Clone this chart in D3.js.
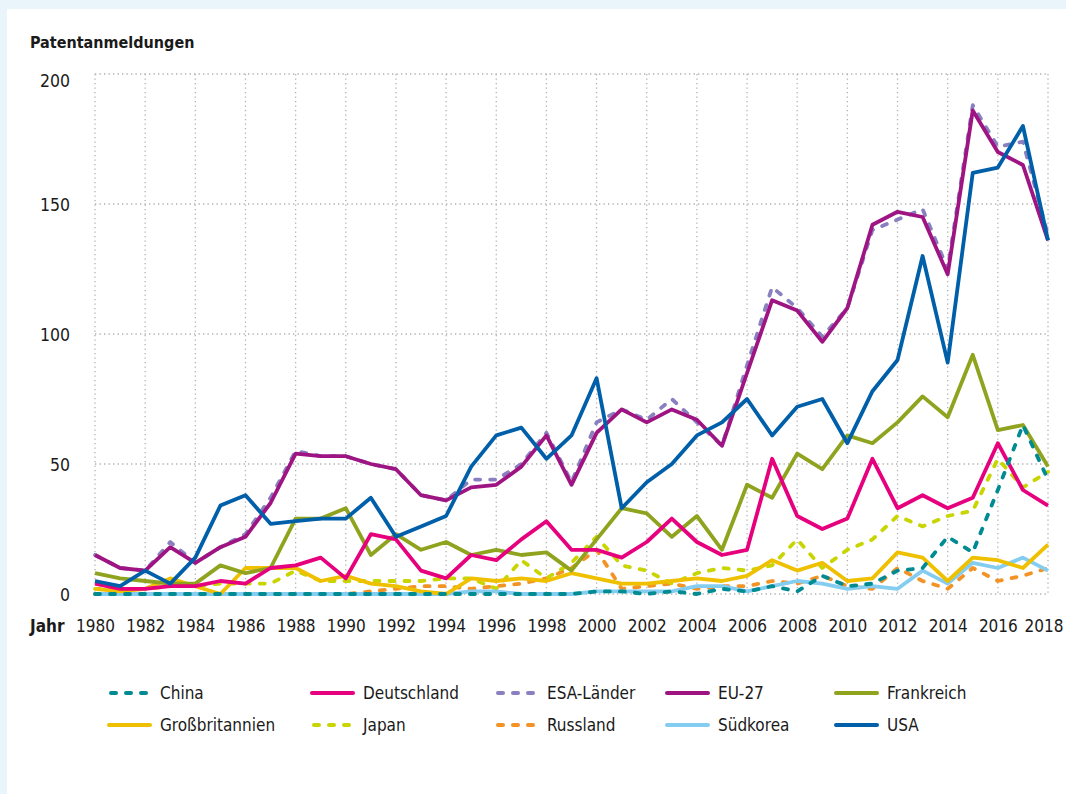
<!DOCTYPE html>
<html>
<head>
<meta charset="utf-8">
<script src="https://cdn.jsdelivr.net/npm/d3@7"></script>
<style>
  html, body { margin: 0; padding: 0; background: #e9f4fb; }
  svg { display: block; }
  text { font-family: "DejaVu Sans Condensed", "Liberation Sans Narrow", sans-serif; fill: #1a1a1a; }
</style>
</head>
<body>
<svg id="chart" width="1066" height="794"></svg>
<script>
// ---- Data ----
const years = d3.range(1980, 2019);
const yTicks = [0, 50, 100, 150, 200];
const xTicks = d3.range(1980, 2019, 2);

const seriesNames = ["China", "Deutschland", "ESA-Länder", "EU-27", "Frankreich",
                     "Großbritannien", "Japan", "Russland", "Südkorea", "USA"];

const china = [0,0,0,0,0,0,0,0,0,0, 0,0,0,0,0,0,0,0,0,0, 1,1,0,1,0,2,1,3,1,7, 3,4,9,10,22,16,40,65,44];
const deutschland = [4,2,2,3,3,5,4,10,11,14, 6,23,21,9,6,15,13,21,28,17, 17,14,20,29,20,15,17,52,30,25, 29,52,33,38,33,37,58,40,34];
const esa = [15,10,9,20,12,18,23,37,55,53, 53,50,48,38,36,44,44,50,62,43, 66,71,67,75,66,57,88,118,110,99, 110,140,144,148,125,188,172,174,138];
const eu27 = [15,10,9,18,12,18,22,35,54,53, 53,50,48,38,36,41,42,49,61,42, 62,71,66,71,67,57,85,113,109,97, 110,142,147,145,123,186,170,165,136];
const frankreich = [8,6,5,4,4,11,8,10,29,29, 33,15,23,17,20,15,17,15,16,9, 21,33,31,22,30,17,42,37,54,48, 61,58,66,76,68,92,63,65,49];
const grossbritannien = [2,1,2,6,3,0,10,10,10,5, 7,4,3,1,0,6,5,6,5,8, 6,4,4,5,6,5,7,13,9,12, 5,6,16,14,5,14,13,10,19];
const japan = [2,2,2,3,3,4,4,4,9,5, 5,5,5,5,6,6,2,13,6,12, 22,11,9,4,8,10,9,11,21,10, 17,21,30,26,30,32,52,41,47];
const russland = [0,0,0,0,0,0,0,0,0,0, 0,1,2,3,3,2,3,4,6,10, 17,2,3,4,2,3,3,5,4,7, 3,2,10,5,2,10,5,7,10];
const suedkorea = [0,0,0,0,0,0,0,0,0,0, 0,0,0,0,0,1,1,0,0,0, 1,1,1,1,3,3,1,3,5,4, 2,3,2,9,4,12,10,14,9];
const usa = [5,3,9,4,14,34,38,27,28,29, 29,37,22,26,30,49,61,64,52,61, 83,33,43,50,61,66,75,61,72,75, 58,78,90,130,89,162,164,180,136];

const seriesValues = [china, deutschland, esa, eu27, frankreich, grossbritannien, japan, russland, suedkorea, usa];

// ---- Styles ----
const colors = {
  "China": "#008b93", "Deutschland": "#e6007e", "ESA-Länder": "#8a80c0", "EU-27": "#9f1483",
  "Frankreich": "#8fa31e", "Großbritannien": "#efc000", "Japan": "#c9d500", "Russland": "#f39325",
  "Südkorea": "#85cdf0", "USA": "#005fa9"
};
const dashed = { "China": true, "ESA-Länder": true, "Japan": true, "Russland": true };
const drawOrder = ["ESA-Länder", "Russland", "Japan", "Südkorea", "Großbritannien", "Frankreich",
                   "Deutschland", "EU-27", "USA", "China"];

const svg = d3.select("#chart");
svg.append("rect").attr("x", 7).attr("y", 9).attr("width", 1066).attr("height", 800).attr("fill", "#ffffff");

const x = d3.scaleLinear().domain([1980, 2018]).range([95, 1048]);
const y = d3.scaleLinear().domain([0, 200]).range([594, 74]);

// Title
svg.append("text").attr("x", 30).attr("y", 48).attr("font-size", 16).attr("font-weight", "bold")
  .text("Patentanmeldungen");

// Grid
const grid = svg.append("g").attr("stroke", "#b0b0b0").attr("stroke-width", 1.3)
  .attr("stroke-dasharray", "1.3,3.2");
grid.selectAll("line.v").data(xTicks).join("line")
  .attr("x1", d => x(d)).attr("x2", d => x(d)).attr("y1", y(200)).attr("y2", y(0));
grid.selectAll("line.h").data(yTicks).join("line")
  .attr("x1", x(1980)).attr("x2", x(2018)).attr("y1", d => y(d)).attr("y2", d => y(d));

// Y axis labels
const yAxis = d3.axisLeft(y).tickValues(yTicks).tickSize(0).tickPadding(0);
const gy = svg.append("g").attr("transform", "translate(70,0)").call(yAxis);
gy.select(".domain").remove();
gy.selectAll("text").attr("font-size", 17.5).attr("font-family", null).style("fill", "#1a1a1a")
  .attr("dy", d => d === 200 ? "0.72em" : "0.35em");

// X axis labels
const xAxis = d3.axisBottom(x).tickValues(xTicks).tickFormat(d3.format("d")).tickSize(0).tickPadding(0);
const gx = svg.append("g").attr("transform", "translate(0,620)").call(xAxis);
gx.select(".domain").remove();
gx.selectAll("text").attr("font-size", 17).attr("font-family", null).style("fill", "#1a1a1a").attr("dy", "0.71em");
gx.selectAll(".tick").filter(d => d === 2018).select("text")
  .attr("text-anchor", "end").attr("x", 1063 - x(2018));
svg.append("text").attr("x", 30).attr("y", 632).attr("font-size", 17).attr("font-weight", "bold").text("Jahr");

// Lines
const line = d3.line().x((d, i) => x(years[i])).y(d => y(d)).curve(d3.curveLinear);
const lines = svg.append("g").attr("fill", "none");
drawOrder.forEach(name => {
  const vals = seriesValues[seriesNames.indexOf(name)];
  lines.append("path").datum(vals)
    .attr("d", line)
    .attr("stroke", colors[name])
    .attr("stroke-width", 3.8)
    .attr("stroke-linejoin", "round")
    .attr("stroke-linecap", dashed[name] ? "round" : "butt")
    .attr("stroke-dasharray", dashed[name] ? "5,10" : null);
});

// Legend
const legCols = [109, 312, 496, 667, 836];
const legRows = [693, 725];
const leg = svg.append("g");
seriesNames.forEach((name, i) => {
  const cx = legCols[i % 5], cy = legRows[Math.floor(i / 5)];
  const g = leg.append("g").attr("transform", `translate(${cx},${cy})`);
  g.append("line").attr("x1", dashed[name] ? 2 : 0).attr("x2", 41).attr("y1", 0).attr("y2", 0)
    .attr("stroke", colors[name]).attr("stroke-width", 4)
    .attr("stroke-linecap", "round")
    .attr("stroke-dasharray", dashed[name] ? "5,10" : null);
  g.append("text").attr("x", 51).attr("y", 0).attr("dy", "0.35em").attr("font-size", 17).text(name);
});
</script>
</body>
</html>
